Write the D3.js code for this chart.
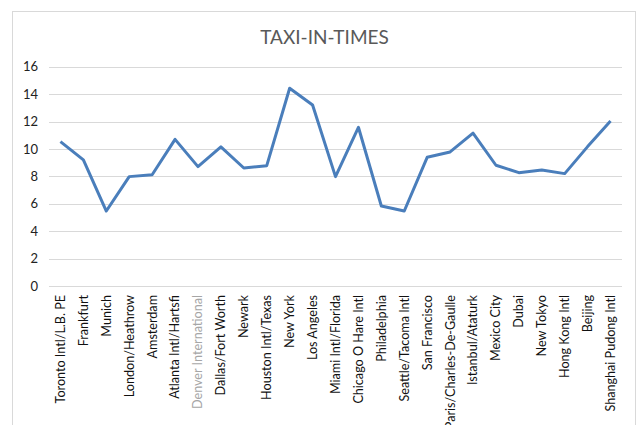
<!DOCTYPE html>
<html>
<head>
<meta charset="utf-8">
<script src="https://cdn.jsdelivr.net/npm/d3@7"></script>
<style>
  body { margin: 0; background: #fff; }
  svg { display: block; }
</style>
</head>
<body>
<div id="content"></div>
<script>
var width = 637;
var height = 425;

// airports and taxi-in times (minutes)
var airports = ["Toronto Intl/L.B. PE", "Frankfurt", "Munich", "London/Heathrow", "Amsterdam",
    "Atlanta Intl/Hartsfi", "Denver International", "Dallas/Fort Worth", "Newark", "Houston Intl/Texas",
    "New York", "Los Angeles", "Miami Intl/Florida", "Chicago O Hare Intl", "Philadelphia",
    "Seattle/Tacoma Intl", "San Francisco", "Paris/Charles-De-Gaulle", "Istanbul/Ataturk", "Mexico City",
    "Dubai", "New Tokyo", "Hong Kong Intl", "Beijing", "Shanghai Pudong Intl"];
var taxiIn = [10.53, 9.2, 5.47, 7.98, 8.12,
    10.7, 8.71, 10.15, 8.61, 8.78,
    14.43, 13.2, 7.98, 11.58, 5.84,
    5.47, 9.39, 9.78, 11.15, 8.81,
    8.27, 8.47, 8.2, 10.17, 12.04];
var yTicks = [0, 2, 4, 6, 8, 10, 12, 14, 16];

var margin = { top: 66.7, right: 15, bottom: 139, left: 49 };

var svg = d3.select("#content").append("svg").attr("width", width).attr("height", height);

// chart frame
svg.append("rect")
    .attr("x", 12.5).attr("y", 11.5)
    .attr("width", 623).attr("height", 430)
    .attr("fill", "#fff")
    .attr("stroke", "#d9d9d9");

svg.append("text")
    .attr("x", 324.5)
    .attr("y", 43.5)
    .style("text-anchor", "middle")
    .style("font-family", "Lato, 'Open Sans', sans-serif")
    .style("font-size", "19px")
    .style("fill", "#595959")
    .text("TAXI-IN-TIMES");

var xScale = d3.scaleBand()
    .domain(airports)
    .range([margin.left, width - margin.right]);

var yScale = d3.scaleLinear()
    .domain([0, 16])
    .range([height - margin.bottom, margin.top]);

// gridlines
svg.append("g")
    .selectAll("line")
    .data(yTicks)
    .enter()
    .append("line")
    .attr("x1", margin.left)
    .attr("x2", width - margin.right)
    .attr("y1", d => Math.round(yScale(d)) + 0.5)
    .attr("y2", d => Math.round(yScale(d)) + 0.5)
    .attr("stroke", "#d9d9d9")
    .attr("stroke-width", 1);

var yAxis = svg.append("g")
    .attr("transform", `translate(${margin.left - 11}, 0)`)
    .call(d3.axisLeft(yScale).tickValues(yTicks).tickSize(0).tickPadding(0));
yAxis.select(".domain").remove();
yAxis.selectAll("text")
    .style("font-family", "Lato, 'Open Sans', sans-serif")
    .style("font-size", "13px")
    .style("fill", "#222");

var xAxis = svg.append("g")
    .attr("transform", `translate(0, ${height - margin.bottom})`)
    .call(d3.axisBottom(xScale).tickSize(0).tickPadding(0));
xAxis.select(".domain").remove();
xAxis.selectAll("text")
    .attr("transform", "rotate(-90)")
    .attr("x", -9)
    .attr("y", 0)
    .attr("dy", "0.35em")
    .style("text-anchor", "end")
    .style("font-family", "Lato, 'Open Sans', sans-serif")
    .style("font-size", "12.6px")
    .style("fill", d => d === "Denver International" ? "#a6a6a6" : "#111");

var line = d3.line()
    .x((d, i) => xScale(airports[i]) + xScale.bandwidth() / 2)
    .y(d => yScale(d));

svg.append("path")
    .datum(taxiIn)
    .attr("d", line)
    .attr("fill", "none")
    .attr("stroke", "#4a7ebb")
    .attr("stroke-width", 3)
    .attr("stroke-linejoin", "round");
</script>
</body>
</html>
